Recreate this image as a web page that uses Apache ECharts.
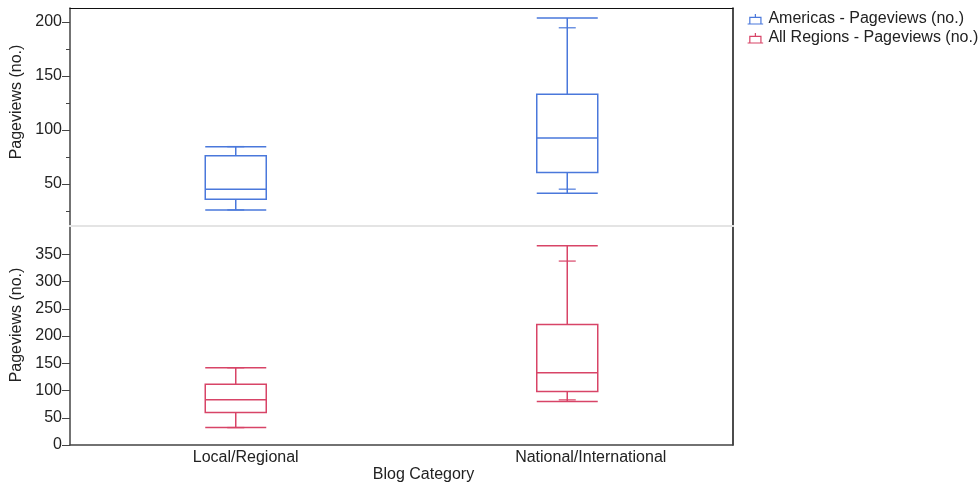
<!DOCTYPE html>
<html>
<head>
<meta charset="utf-8">
<script src="https://cdn.jsdelivr.net/npm/echarts@6/dist/echarts.min.js"></script>
<style>html,body{margin:0;padding:0;background:#fff}#c{width:980px;height:485px}</style>
</head>
<body>
<div id="c"></div>
<script>
var categories = ['Local/Regional', 'National/International'];
var seriesNames = ['Americas - Pageviews (no.)', 'All Regions - Pageviews (no.)'];
// [min, Q1, median, Q3, max]
var americasBox = [[25.9, 35.8, 45.1, 76.2, 84.5], [41.4, 60.5, 92.6, 133, 203.7]];
var americasP10 = [25.9, 45.1];
var americasP90 = [84.5, 194.7];
var allRegionsBox = [[31.9, 59.5, 82.9, 111.6, 141.8], [79.8, 98.2, 132.6, 221, 365.8]];
var allRegionsP10 = [31.9, 82.9];
var allRegionsP90 = [141.8, 337.6];
var topTicksMajor = [50, 100, 150, 200];
var topTicksMinor = [25, 75, 125, 175];
var bottomTicks = [0, 50, 100, 150, 200, 250, 300, 350];

var blue = '#4a78db', red = '#d84467';
var font = 'Liberation Sans, Arial, sans-serif';
var txt = '#222';
var FS = 16;
var labelShift = [20, 47];
var chart = echarts.init(document.getElementById('c'));

function catAxis(grid, pos, lineColor, lineWidth, withLabels) {
  var a = {
    type: 'category', gridIndex: grid, data: categories, position: pos,
    boundaryGap: true,
    axisLine: {show: true, onZero: false, lineStyle: {color: lineColor, width: lineWidth}},
    axisTick: {show: false},
    axisLabel: {show: false},
    splitLine: {show: false}
  };
  if (withLabels) {
    a.data = categories.map(function (c, i) {
      return {value: c, textStyle: {padding: [0, 0, 0, labelShift[i]]}};
    });
    a.axisLabel = {show: true, color: txt, fontSize: FS, fontFamily: font, margin: 5};
    a.name = 'Blog Category';
    a.nameLocation = 'middle';
    a.nameGap = 22;
    a.nameTextStyle = {color: txt, fontSize: FS, fontFamily: font, padding: [0, 0, 0, 44]};
  }
  return a;
}
function valAxis(grid, min, max, opts) {
  var a = {
    type: 'value', gridIndex: grid, min: min, max: max, position: opts.pos || 'left',
    axisLine: {show: opts.line !== false, onZero: false, lineStyle: {color: opts.lineColor || '#444', width: 1.5}},
    splitLine: {show: false},
    axisTick: {show: false},
    axisLabel: {show: false}
  };
  if (opts.ticks) {
    a.axisTick = {show: true, length: opts.tickLen || 8, customValues: opts.ticks, lineStyle: {color: '#444', width: 1}};
  }
  if (opts.labels) {
    a.axisLabel = {show: true, customValues: opts.labels, color: txt, fontSize: FS, fontFamily: font, margin: 8};
    a.name = 'Pageviews (no.)';
    a.nameLocation = 'middle';
    a.nameGap = 40;
    a.nameTextStyle = {color: txt, fontSize: FS, fontFamily: font, padding: [0, 0, 0, opts.nameShift || 0]};
  }
  return a;
}
function toPts(arr) { return arr.map(function (v, i) { return [i, v]; }); }
function marks(xi, yi, color, arr) {
  return {
    type: 'scatter', xAxisIndex: xi, yAxisIndex: yi, symbol: 'rect', symbolSize: [17, 1.5],
    itemStyle: {color: color}, data: toPts(arr), silent: true, z: 3
  };
}

var iconPath = 'path://M7,0 L7,3 M2,3 L12,3 L12,9 L2,9 Z M0,9 L14,9';

chart.setOption({
  animation: false,
  textStyle: {fontFamily: font},
  grid: [
    {left: 70, top: 8, width: 663, height: 218, outerBoundsMode: 'none', containLabel: false},
    {left: 70, top: 226, width: 663, height: 219, outerBoundsMode: 'none', containLabel: false}
  ],
  legend: {
    orient: 'vertical', left: 742, top: 6, itemGap: 3, itemWidth: 16, itemHeight: 10,
    textStyle: {color: txt, fontSize: FS, fontFamily: font},
    data: [
      {name: seriesNames[0], icon: iconPath, itemStyle: {color: 'rgba(0,0,0,0)', borderColor: blue, borderWidth: 1.2}},
      {name: seriesNames[1], icon: iconPath, itemStyle: {color: 'rgba(0,0,0,0)', borderColor: red, borderWidth: 1.2}}
    ]
  },
  xAxis: [
    catAxis(0, 'bottom', '#e4e4e4', 2, false),
    catAxis(0, 'top', '#111', 1.2, false),
    catAxis(1, 'bottom', '#444', 1.5, true),
    catAxis(1, 'top', '#e4e4e4', 2, false)
  ],
  yAxis: [
    valAxis(0, 11, 213, {ticks: topTicksMajor, labels: topTicksMajor, nameShift: 30}),
    valAxis(0, 11, 213, {line: false, ticks: topTicksMinor, tickLen: 4}),
    valAxis(0, 11, 213, {pos: 'right', lineColor: '#111'}),
    valAxis(1, 0, 402, {ticks: bottomTicks, labels: bottomTicks, nameShift: 21}),
    valAxis(1, 0, 402, {pos: 'right', lineColor: '#111'})
  ],
  series: [
    {
      name: seriesNames[0], type: 'boxplot', xAxisIndex: 0, yAxisIndex: 0,
      boxWidth: [61, 61], data: americasBox,
      itemStyle: {color: '#fff', borderColor: blue, borderWidth: 1.5}
    },
    marks(0, 0, blue, americasP10),
    marks(0, 0, blue, americasP90),
    {
      name: seriesNames[1], type: 'boxplot', xAxisIndex: 2, yAxisIndex: 3,
      boxWidth: [61, 61], data: allRegionsBox,
      itemStyle: {color: '#fff', borderColor: red, borderWidth: 1.5}
    },
    marks(2, 3, red, allRegionsP10),
    marks(2, 3, red, allRegionsP90)
  ]
});
</script>
</body>
</html>
